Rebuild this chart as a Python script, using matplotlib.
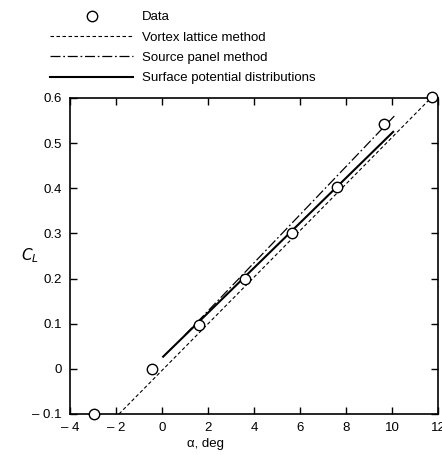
import matplotlib
matplotlib.use("Agg")
import matplotlib.pyplot as plt
from matplotlib.lines import Line2D

# Data
data_alpha = [-2.95, -0.45, 1.6, 3.6, 5.65, 7.6, 9.65, 11.75]
data_cl = [-0.1, 0.0, 0.097, 0.2, 0.302, 0.403, 0.543, 0.603]

vortex_alpha = [-1.87, 11.75]
vortex_cl = [-0.1, 0.603]

source_alpha = [1.0, 10.1]
source_cl = [0.075, 0.56]

surface_alpha = [0.05, 10.05]
surface_cl = [0.027, 0.525]

xticks = [-4, -2, 0, 2, 4, 6, 8, 10, 12]
xticklabels = ["\u2013 4", "\u2013 2", "0", "2", "4", "6", "8", "10", "12"]
yticks = [-0.1, 0.0, 0.1, 0.2, 0.3, 0.4, 0.5, 0.6]
yticklabels = ["\u2013 0.1", "0", "0.1", "0.2", "0.3", "0.4", "0.5", "0.6"]

plt.rcParams['font.family'] = ['Liberation Sans', 'DejaVu Sans']

fig = plt.figure(figsize=(4.42, 4.55), dpi=100)
ax = fig.add_axes([70/442, 41/455, 368/442, 316/455])

ax.plot(vortex_alpha, vortex_cl, color='black', lw=0.8, dashes=(3.2, 2.2), clip_on=False)
ax.plot(source_alpha, source_cl, color='black', lw=0.9, dashes=(8.0, 2.2, 1.4, 2.2), clip_on=False)
ax.plot(surface_alpha, surface_cl, color='black', lw=1.5, clip_on=False)
ax.plot(data_alpha, data_cl, 'o', ms=7.5, mfc='white', mec='black', mew=1.0,
        clip_on=False, zorder=5)

ax.set_xlim(-4, 12)
ax.set_ylim(-0.1, 0.6)
ax.set_xticks(xticks)
ax.set_xticklabels(xticklabels)
ax.set_yticks(yticks)
ax.set_yticklabels(yticklabels)
ax.tick_params(direction='in', length=5, width=1.0, top=True, right=True,
               labelsize=9.5, pad=6)
for s in ax.spines.values():
    s.set_linewidth(1.2)

ax.set_xlabel("\u03b1, deg", fontsize=9.5)
ax.xaxis.set_label_coords(0.367, -0.075)
ax.set_ylabel("$C_L$", fontsize=11, rotation=0)
ax.yaxis.set_label_coords(-0.108, 0.47)

handles = [
    Line2D([], [], marker='o', ls='none', ms=7.5, mfc='white', mec='black', mew=1.0),
    Line2D([], [], color='black', lw=0.8, dashes=(3.2, 2.2)),
    Line2D([], [], color='black', lw=0.9, dashes=(8.0, 2.2, 1.4, 2.2)),
    Line2D([], [], color='black', lw=1.5),
]
labels = ["Data", "Vortex lattice method", "Source panel method",
          "Surface potential distributions"]
fig.legend(handles, labels, loc='upper left', bbox_to_anchor=(50/442, 1 - 11/455),
           frameon=False, fontsize=9.5, handlelength=6.3, handletextpad=0.7,
           labelspacing=0.62, borderpad=0, borderaxespad=0)

fig.savefig("out.png", dpi=100)
